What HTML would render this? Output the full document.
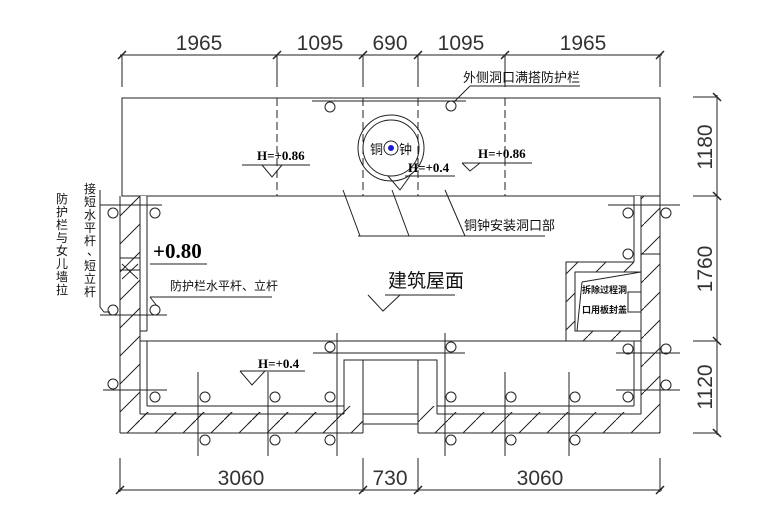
<!DOCTYPE html>
<html><head><meta charset="utf-8"><style>
html,body{margin:0;padding:0;background:#fff;}
svg{display:block;}
.d{font-family:"Liberation Sans","DejaVu Sans",sans-serif;font-size:21px;fill:#333;}
.c{font-family:"Liberation Sans","Noto Sans CJK SC",sans-serif;fill:#111;}
.h{font-family:"Liberation Serif",serif;font-weight:bold;fill:#000;}
</style></head><body>
<svg width="780" height="519" viewBox="0 0 780 519" xmlns="http://www.w3.org/2000/svg">
<defs>
<pattern id="hat" patternUnits="userSpaceOnUse" width="28" height="28">
<line x1="0" y1="28" x2="28" y2="0" stroke="#222" stroke-width="1"/>
</pattern>
</defs>
<g stroke="#222" stroke-width="1" fill="none">
<line x1="120" y1="55" x2="662" y2="55"/>
<g stroke-width="1.5">
<line x1="118" y1="59" x2="126" y2="51"/><line x1="273" y1="59" x2="281" y2="51"/><line x1="359" y1="59" x2="367" y2="51"/><line x1="414" y1="59" x2="422" y2="51"/><line x1="501" y1="59" x2="509" y2="51"/><line x1="656" y1="59" x2="664" y2="51"/>
</g>
<line x1="122" y1="55" x2="122" y2="87"/><line x1="277" y1="55" x2="277" y2="87"/><line x1="363" y1="55" x2="363" y2="87"/><line x1="418" y1="55" x2="418" y2="87"/><line x1="505" y1="55" x2="505" y2="87"/><line x1="660" y1="55" x2="660" y2="87"/>
<line x1="717" y1="95" x2="717" y2="435"/>
<g stroke-width="1.5">
<line x1="713" y1="93" x2="721" y2="101"/><line x1="713" y1="192" x2="721" y2="200"/><line x1="713" y1="337" x2="721" y2="345"/><line x1="713" y1="429" x2="721" y2="437"/>
</g>
<line x1="693" y1="97" x2="717" y2="97"/><line x1="693" y1="196" x2="717" y2="196"/><line x1="693" y1="341" x2="717" y2="341"/><line x1="693" y1="433" x2="717" y2="433"/>
<line x1="118" y1="490" x2="662" y2="490"/>
<g stroke-width="1.5">
<line x1="116" y1="494" x2="124" y2="486"/><line x1="359" y1="494" x2="367" y2="486"/><line x1="414" y1="494" x2="422" y2="486"/><line x1="656" y1="494" x2="664" y2="486"/>
</g>
<line x1="120" y1="458" x2="120" y2="492"/><line x1="363" y1="458" x2="363" y2="492"/><line x1="418" y1="458" x2="418" y2="492"/><line x1="660" y1="458" x2="660" y2="492"/>

<rect x="122" y="98" width="538" height="98"/>
<g stroke-dasharray="8,4">
<line x1="277" y1="98" x2="277" y2="196"/><line x1="363" y1="98" x2="363" y2="196"/><line x1="418" y1="98" x2="418" y2="196"/><line x1="505" y1="98" x2="505" y2="196"/>
</g>
<line x1="312" y1="101" x2="466" y2="101"/>
<circle cx="330" cy="107" r="5"/><circle cx="451" cy="106" r="5"/>
<line x1="454" y1="102" x2="470" y2="86"/><line x1="470" y1="86" x2="580" y2="86"/>
<circle cx="391" cy="148" r="33"/><circle cx="391" cy="148" r="28"/><circle cx="391" cy="148" r="7"/>
<line x1="242" y1="165" x2="310" y2="165"/><polyline points="262,165 272,177 282,165"/>
<line x1="462" y1="163" x2="532" y2="163"/><polyline points="462,163 470,171 480,163"/>
<line x1="405" y1="176" x2="455" y2="176"/><polyline points="388,176 400,190 410,176"/>
<line x1="343" y1="190" x2="360" y2="236"/><line x1="392" y1="190" x2="409" y2="236"/><line x1="445" y1="190" x2="465" y2="236"/><line x1="358" y1="236" x2="545" y2="236"/>

<path d="M120,196 H140 V412 H344 V360 H363 V424 H120 Z" fill="url(#hat)" stroke="none"/>
<path d="M120,412 H363 V433 H120Z" fill="url(#hat)" stroke="none"/>
<path d="M418,360 H437 V412 H641 V196 H660 V433 H418 Z" fill="url(#hat)" stroke="none"/>
<path d="M566,262 H634 V341 H566Z" fill="url(#hat)" stroke="none"/>
<rect x="575" y="272" width="66" height="59" fill="#fff" stroke="none"/>
<rect x="140" y="196" width="7" height="216" fill="#fff" stroke="none"/>
<rect x="634" y="196" width="7" height="66" fill="#fff" stroke="none"/>
<rect x="147" y="341" width="487" height="65" fill="#fff" stroke="none"/>

<line x1="120" y1="196" x2="120" y2="433"/>
<line x1="660" y1="196" x2="660" y2="433"/>
<line x1="120" y1="433" x2="363" y2="433"/>
<line x1="418" y1="433" x2="660" y2="433"/>
<line x1="140" y1="196" x2="140" y2="414"/>
<line x1="147" y1="196" x2="147" y2="331"/>
<line x1="147" y1="341" x2="147" y2="406"/>
<line x1="140" y1="331" x2="147" y2="331"/>
<line x1="140" y1="341" x2="641" y2="341"/>
<line x1="147" y1="406" x2="344" y2="406"/>
<line x1="140" y1="414" x2="344" y2="414"/>
<line x1="437" y1="406" x2="634" y2="406"/>
<line x1="437" y1="414" x2="641" y2="414"/>
<line x1="641" y1="196" x2="641" y2="414"/>
<line x1="634" y1="196" x2="634" y2="262"/>
<line x1="634" y1="341" x2="634" y2="406"/>
<line x1="641" y1="254" x2="660" y2="254"/>
<path d="M344,414 V360 H437 V414"/>
<line x1="363" y1="360" x2="363" y2="433"/>
<line x1="418" y1="360" x2="418" y2="433"/>
<line x1="363" y1="414" x2="418" y2="414"/>
<line x1="363" y1="424" x2="418" y2="424"/>
<line x1="120" y1="258" x2="140" y2="258"/><line x1="120" y1="270" x2="140" y2="270"/>
<line x1="122" y1="264" x2="138" y2="279"/><line x1="138" y1="264" x2="122" y2="279"/>
<path d="M566,341 V262 H634"/>
<rect x="575" y="272" width="66" height="59"/>
<line x1="582" y1="282" x2="641" y2="272"/><line x1="582" y1="282" x2="577" y2="331"/>
<rect x="628" y="292" width="13" height="20"/>

<line x1="100" y1="205" x2="162" y2="205"/><line x1="608" y1="205" x2="680" y2="205"/>
<line x1="100" y1="315" x2="167" y2="315"/><line x1="103" y1="390" x2="167" y2="390"/>
<line x1="313" y1="353" x2="465" y2="353"/>
<line x1="616" y1="353" x2="680" y2="353"/><line x1="616" y1="390" x2="680" y2="390"/>
<line x1="198" y1="372" x2="198" y2="456"/><line x1="268" y1="372" x2="268" y2="456"/><line x1="337" y1="333" x2="337" y2="456"/>
<line x1="445" y1="333" x2="445" y2="456"/><line x1="505" y1="372" x2="505" y2="456"/><line x1="569" y1="372" x2="569" y2="456"/>
<circle cx="113" cy="213" r="5"/><circle cx="155" cy="213" r="5"/><circle cx="113" cy="310" r="5"/><circle cx="155" cy="310" r="5"/>
<circle cx="113" cy="384" r="5"/><circle cx="155" cy="397" r="5"/><circle cx="205" cy="397" r="5"/><circle cx="275" cy="397" r="5"/><circle cx="330" cy="397" r="5"/>
<circle cx="205" cy="440" r="5"/><circle cx="275" cy="440" r="5"/><circle cx="330" cy="440" r="5"/>
<circle cx="330" cy="347" r="5"/><circle cx="451" cy="347" r="5"/>
<circle cx="451" cy="397" r="5"/><circle cx="511" cy="397" r="5"/><circle cx="575" cy="397" r="5"/><circle cx="628" cy="397" r="5"/>
<circle cx="451" cy="440" r="5"/><circle cx="511" cy="440" r="5"/><circle cx="575" cy="440" r="5"/>
<circle cx="628" cy="213" r="5"/><circle cx="666" cy="213" r="5"/><circle cx="628" cy="254" r="5"/>
<circle cx="628" cy="349" r="5"/><circle cx="666" cy="349" r="5"/><circle cx="666" cy="385" r="5"/>
<path d="M100,190 V307 L104,312 H110"/>
<line x1="150" y1="264" x2="207" y2="264"/>
<line x1="150" y1="297" x2="272" y2="297"/><line x1="150" y1="297" x2="157" y2="306"/>
<line x1="385" y1="295" x2="455" y2="295"/><polyline points="368,295 383,311 400,295"/>
<line x1="240" y1="371" x2="305" y2="371"/><polyline points="240,371 252,385 265,371"/>
</g>
<circle cx="391" cy="148" r="3" fill="#1a1ad0"/>

<text class="d" x="199" y="50" text-anchor="middle">1965</text>
<text class="d" x="320" y="50" text-anchor="middle">1095</text>
<text class="d" x="390" y="50" text-anchor="middle">690</text>
<text class="d" x="461" y="50" text-anchor="middle">1095</text>
<text class="d" x="583" y="50" text-anchor="middle">1965</text>
<text class="d" x="241" y="485" text-anchor="middle">3060</text>
<text class="d" x="390" y="485" text-anchor="middle">730</text>
<text class="d" x="540" y="485" text-anchor="middle">3060</text>
<text class="d" transform="translate(712,147) rotate(-90)" text-anchor="middle">1180</text>
<text class="d" transform="translate(712,269) rotate(-90)" text-anchor="middle">1760</text>
<text class="d" transform="translate(712,387) rotate(-90)" text-anchor="middle">1120</text>

<text class="c" x="463" y="82" font-size="13">外侧洞口满搭防护栏</text>
<text class="c" x="464" y="230" font-size="13">铜钟安装洞口部</text>
<text class="c" x="370" y="154" font-size="13">铜</text>
<text class="c" x="399" y="154" font-size="13">钟</text>
<text class="h" x="257" y="160" font-size="13">H=+0.86</text>
<text class="h" x="478" y="158" font-size="13">H=+0.86</text>
<text class="h" x="408" y="172" font-size="13">H=+0.4</text>
<text class="h" x="258" y="368" font-size="13">H=+0.4</text>
<text class="h" x="153" y="258" font-size="21">+0.80</text>
<text class="c" x="170" y="290" font-size="12">防护栏水平杆、立杆</text>
<text class="c" x="388" y="287" font-size="19">建筑屋面</text>
<text class="c" x="582" y="293" font-size="9" font-weight="bold">拆除过程洞</text>
<text class="c" x="582" y="313" font-size="9" font-weight="bold">口用板封盖</text>

<text class="c" font-size="12" text-anchor="middle"><tspan x="62" y="203">防</tspan><tspan x="62" y="216">护</tspan><tspan x="62" y="229">栏</tspan><tspan x="62" y="242">与</tspan><tspan x="62" y="255">女</tspan><tspan x="62" y="268">儿</tspan><tspan x="62" y="281">墙</tspan><tspan x="62" y="294">拉</tspan></text>
<text class="c" font-size="12" text-anchor="middle"><tspan x="90" y="193">接</tspan><tspan x="90" y="206">短</tspan><tspan x="90" y="219">水</tspan><tspan x="90" y="232">平</tspan><tspan x="90" y="245">杆</tspan><tspan x="93" y="255">、</tspan><tspan x="90" y="270">短</tspan><tspan x="90" y="283">立</tspan><tspan x="90" y="296">杆</tspan></text>
</svg>
</body></html>
